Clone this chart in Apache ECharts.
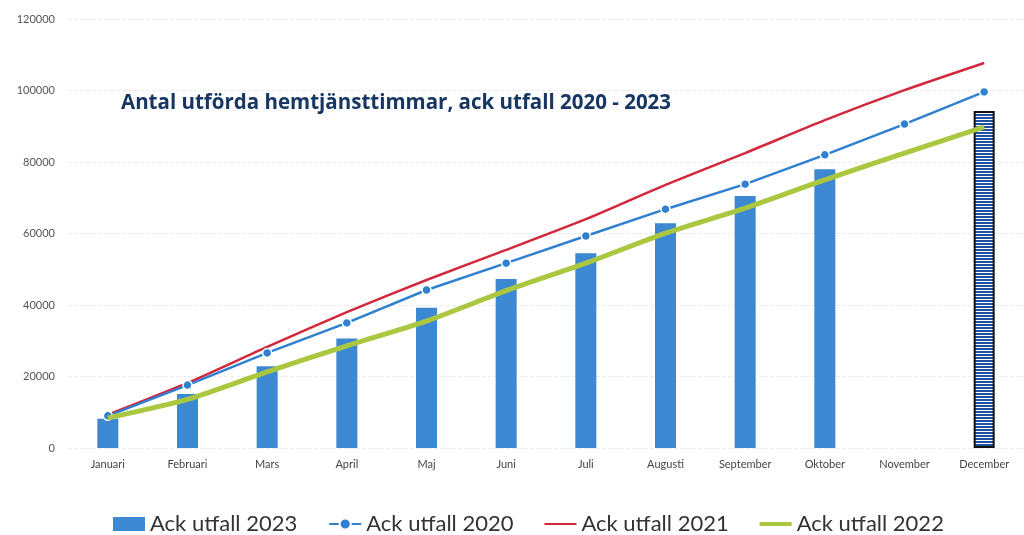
<!DOCTYPE html>
<html>
<head>
<meta charset="utf-8">
<script src="https://cdn.jsdelivr.net/npm/echarts@6/dist/echarts.min.js"></script>
<style>
html,body{margin:0;padding:0;background:#fff;}
#c{width:1024px;height:535px;}
</style>
</head>
<body>
<div id="c"></div>
<script>
const categories = ['Januari','Februari','Mars','April','Maj','Juni','Juli','Augusti','September','Oktober','November','December'];
const ack2023 = [8200, 15100, 22900, 30600, 39200, 47300, 54500, 62900, 70500, 78000, null, 94300];
const ack2020 = [9000, 17600, 26600, 35000, 44200, 51700, 59300, 66800, 73800, 82000, 90600, 99600];
const ack2021 = [9300, 18200, 28300, 38000, 47000, 55400, 64000, 73600, 82500, 91700, 100100, 107700];
const ack2022 = [8400, 13600, 21300, 28600, 35500, 44000, 51700, 60100, 67100, 75000, 82500, 89800];
const forecastIndex = 11;
const yTicks = {min: 0, max: 120000, interval: 20000};

const pc = document.createElement('canvas');
pc.width = 4; pc.height = 3;
const g = pc.getContext('2d');
g.fillStyle = '#ffffff'; g.fillRect(0,0,4,3);
g.fillStyle = '#1f4f9e'; g.fillRect(0,0,4,2);

const barData = ack2023.map((v,i)=> i===forecastIndex ? {value:v, itemStyle:{color:{image:pc, repeat:'repeat'}, borderColor:'#111', borderWidth:2}} : v);

const chart = echarts.init(document.getElementById('c'));
chart.setOption({
  animation:false,
  backgroundColor:'#fff',
  title:{
    text:'Antal utförda hemtjänsttimmar, ack utfall 2020 - 2023',
    left:116, top:88,
    textStyle:{fontFamily:'Open Sans', fontWeight:'bold', fontSize:20.5, color:'#173663'}
  },
  legend:{
    bottom:-5, left:108,
    itemWidth:32, itemHeight:14, itemGap:31,
    textStyle:{fontFamily:'Lato', fontSize:22, color:'#333'},
    data:[
      {name:'Ack utfall 2023', icon:'rect'},
      {name:'Ack utfall 2020'},
      {name:'Ack utfall 2021', icon:'path://M0,6 L32,6 L32,8 L0,8 Z'},
      {name:'Ack utfall 2022', icon:'path://M0,5 L32,5 L32,9 L0,9 Z'}
    ]
  },
  grid:{left:68, right:-9, top:19, bottom:87},
  xAxis:{
    type:'category', data:categories,
    axisLine:{show:false}, axisTick:{show:false},
    axisLabel:{fontFamily:'Lato', fontSize:11, color:'#444', margin:11}
  },
  yAxis:{
    type:'value', min:yTicks.min, max:yTicks.max, interval:yTicks.interval,
    axisLine:{show:false}, axisTick:{show:false},
    axisLabel:{fontFamily:'Lato', fontSize:11, color:'#555', margin:13, formatter:v=>String(v)},
    splitLine:{lineStyle:{color:'#ececec', type:'dashed', width:1}}
  },
  series:[
    {name:'Ack utfall 2023', type:'bar', data:barData, barWidth:21,
     itemStyle:{color:'#3c88d2'}, z:1},
    {name:'Ack utfall 2020', type:'line', data:ack2020, symbol:'circle', symbolSize:9,
     lineStyle:{color:'#2f80d0', width:2.5}, itemStyle:{color:'#2f80d0', borderColor:'#fff', borderWidth:1.5}, z:3},
    {name:'Ack utfall 2021', type:'line', data:ack2021, symbol:'none', smooth:0.2,
     lineStyle:{color:'#d3283c', width:2.5}, itemStyle:{color:'#d3283c'}, z:2},
    {name:'Ack utfall 2022', type:'line', data:ack2022, symbol:'none', smooth:0.2,
     lineStyle:{color:'#aac73f', width:5}, itemStyle:{color:'#aac73f'}, z:4}
  ]
});
</script>
</body>
</html>
